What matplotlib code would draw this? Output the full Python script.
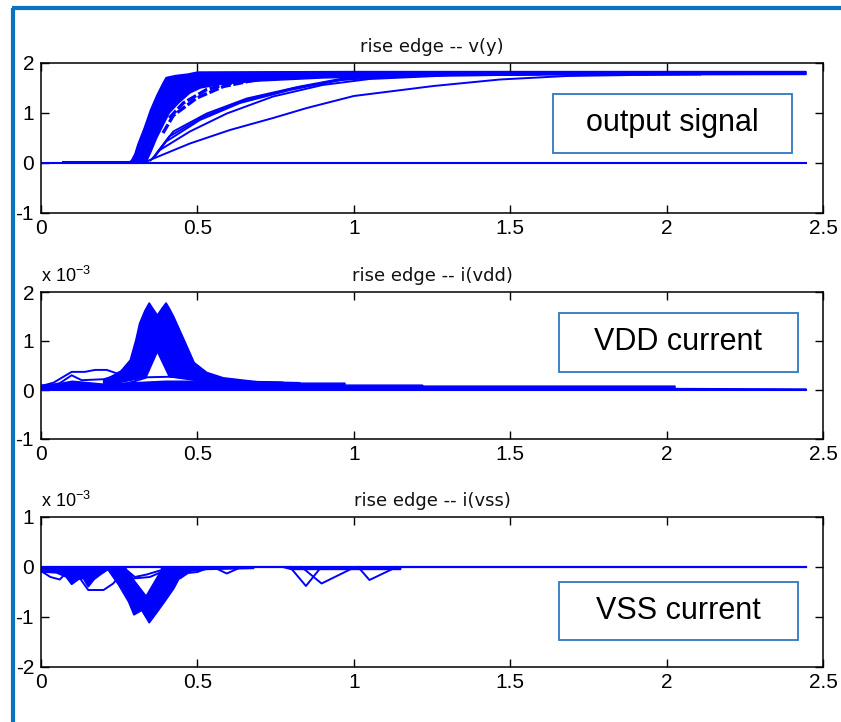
import matplotlib
matplotlib.use('Agg')
import matplotlib.pyplot as plt
from matplotlib import font_manager
from matplotlib.patches import Rectangle, Polygon
from matplotlib.lines import Line2D

BLUE = '#0000ff'
FRAME = '#0a72c0'
BOX = '#2e78c0'
W, H = 841, 722

# ---- common axis setup
x_ticks = [0, 0.5, 1, 1.5, 2, 2.5]
x_labels = ['0', '0.5', '1', '1.5', '2', '2.5']

# ---- panel 1: output voltage v(y)
out_yticks = [-1, 0, 1, 2]
out_ylabels = ['-1', '0', '1', '2']
out_zero_t = [0.0, 2.446]
out_zero_v = [0.0, 0.0]
out_pre_t = [0.07, 0.31]
out_pre_v = [0.02, 0.02]
# dense bundle of fast edges (outline)
out_band_t = [0.28, 0.29, 0.30, 0.31, 0.33, 0.35, 0.37, 0.39, 0.40, 0.43, 0.47, 0.50, 1.0, 2.446,
              2.446, 1.6, 1.2, 0.9, 0.7, 0.58, 0.51, 0.476, 0.44, 0.41, 0.39, 0.37, 0.35, 0.335]
out_band_v = [0.0, 0.06, 0.18, 0.38, 0.70, 1.06, 1.35, 1.60, 1.71, 1.75, 1.78, 1.82, 1.83, 1.83,
              1.77, 1.76, 1.74, 1.70, 1.64, 1.58, 1.50, 1.40, 1.20, 1.00, 0.75, 0.50, 0.20, 0.0]
# slower edges
out_a_t = [0.33, 0.348, 0.476, 0.604, 0.742, 0.85, 1.0, 1.255, 1.467, 1.68, 1.89, 2.107]
out_a_v = [0.0, 0.06, 0.39, 0.66, 0.90, 1.10, 1.34, 1.54, 1.67, 1.74, 1.76, 1.77]
out_b_t = [0.35, 0.38, 0.476, 0.594, 0.742, 0.90, 1.05, 1.30, 1.60]
out_b_v = [0.05, 0.26, 0.63, 0.99, 1.33, 1.56, 1.68, 1.75, 1.77]
out_c_t = [0.36, 0.40, 0.508, 0.636, 0.796, 0.956, 1.15, 1.40]
out_c_v = [0.10, 0.43, 0.86, 1.20, 1.46, 1.66, 1.74, 1.77]
out_c2_t = [0.365, 0.41, 0.52, 0.65, 0.81, 0.97, 1.20]
out_c2_v = [0.15, 0.53, 0.93, 1.25, 1.50, 1.67, 1.76]
out_d_t = [0.37, 0.423, 0.53, 0.658, 0.828, 0.956, 1.15]
out_d_v = [0.20, 0.63, 0.99, 1.29, 1.53, 1.68, 1.76]
# broken-looking edges just right of the bundle
out_e_t = [0.39, 0.423, 0.498, 0.583, 0.70, 0.85]
out_e_v = [0.60, 0.95, 1.30, 1.53, 1.68, 1.76]
out_f_t = [0.41, 0.455, 0.53, 0.594, 0.70]
out_f_v = [0.90, 1.20, 1.47, 1.58, 1.70]

# ---- panel 2: VDD current i(vdd), x 1e-3
vdd_yticks = [-1, 0, 1, 2]
vdd_ylabels = ['-1', '0', '1', '2']
vdd_zero_t = [0.0, 2.446]
vdd_zero_v = [0.0, 0.0]
vdd_peak_t = [0.20, 0.253, 0.285, 0.303, 0.315, 0.332, 0.346, 0.356, 0.372, 0.388, 0.40, 0.412, 0.425,
              0.458, 0.49, 0.53, 0.583, 0.69, 0.828, 0.828, 0.60, 0.41, 0.372, 0.336, 0.25, 0.20]
vdd_peak_v = [0.20, 0.37, 0.61, 1.02, 1.36, 1.62, 1.78, 1.68, 1.53, 1.68, 1.78, 1.65, 1.49,
              1.02, 0.56, 0.36, 0.25, 0.17, 0.15, 0.05, 0.10, 0.27, 0.78, 0.26, 0.15, 0.10]
vdd_tail_t = [0.0, 0.05, 0.10, 0.20, 0.30, 0.40, 0.50, 0.636, 0.774, 0.774, 0.972, 0.972, 1.22, 1.22,
              2.027, 2.027, 2.446, 2.446, 0.0]
vdd_tail_v = [0.10, 0.12, 0.18, 0.12, 0.15, 0.18, 0.18, 0.18, 0.16, 0.14, 0.14, 0.10, 0.10, 0.08,
              0.08, 0.03, 0.02, 0.0, 0.0]
vdd_bump1_t = [0.0, 0.04, 0.098, 0.14, 0.173, 0.21, 0.242, 0.27]
vdd_bump1_v = [0.08, 0.15, 0.37, 0.37, 0.41, 0.41, 0.34, 0.42]
vdd_bump2_t = [0.0, 0.06, 0.098, 0.13, 0.20, 0.26]
vdd_bump2_v = [0.05, 0.14, 0.30, 0.20, 0.22, 0.32]
vdd_low_t = [0.22, 0.30, 0.34, 0.41, 0.50, 0.60]
vdd_low_v = [0.05, 0.18, 0.26, 0.27, 0.24, 0.15]

# ---- panel 3: VSS current i(vss), x 1e-3
vss_yticks = [-2, -1, 0, 1]
vss_ylabels = ['-2', '-1', '0', '1']
vss_zero_t = [0.0, 2.446]
vss_zero_v = [0.0, 0.0]
vss_v_t = [0.21, 0.248, 0.28, 0.297, 0.322, 0.346, 0.372, 0.395, 0.425, 0.442, 0.47, 0.53, 0.68,
           0.68, 0.385, 0.385, 0.336, 0.272, 0.272]
vss_v_v = [-0.02, -0.36, -0.70, -0.96, -0.87, -1.12, -0.90, -0.70, -0.43, -0.23, -0.09, -0.05, -0.03,
           0.0, 0.0, -0.06, -0.58, -0.06, 0.0]
vss_left_t = [0.0, 0.0, 0.05, 0.08, 0.098, 0.12, 0.135, 0.151, 0.17, 0.189, 0.215, 0.215]
vss_left_v = [0.0, -0.10, -0.12, -0.20, -0.35, -0.25, -0.23, -0.40, -0.25, -0.16, -0.05, 0.0]
vss_l1_t = [0.0, 0.03, 0.06, 0.08]
vss_l1_v = [-0.08, -0.20, -0.25, -0.12]
vss_l2_t = [0.11, 0.125, 0.151, 0.20, 0.231, 0.26]
vss_l2_v = [-0.10, -0.23, -0.46, -0.46, -0.33, -0.10]
vss_l3_t = [0.268, 0.30, 0.338, 0.391]
vss_l3_v = [-0.03, -0.20, -0.15, -0.05]
vss_l4_t = [0.274, 0.295, 0.348, 0.40]
vss_l4_v = [-0.08, -0.23, -0.20, -0.06]
vss_l5_t = [0.42, 0.444, 0.47, 0.50, 0.53]
vss_l5_v = [-0.05, -0.23, -0.12, -0.10, -0.03]
vss_l6_t = [0.56, 0.594, 0.63]
vss_l6_v = [-0.03, -0.13, -0.03]
vss_v1_t = [0.796, 0.847, 0.892]
vss_v1_v = [0.0, -0.38, -0.03]
vss_v2_t = [0.833, 0.897, 0.988]
vss_v2_v = [0.0, -0.33, -0.05]
vss_v3_t = [1.014, 1.05, 1.137]
vss_v3_v = [0.0, -0.26, 0.0]
vss_strip_t = [0.77, 0.80, 1.15, 1.15]
vss_strip_v = [0.0, -0.05, -0.05, 0.0]

titles = ['rise edge -- v(y)', 'rise edge -- i(vdd)', 'rise edge -- i(vss)']
box_texts = ['output signal', 'VDD current', 'VSS current']

_installed = {f.name for f in font_manager.fontManager.ttflist}
TICK_FONT = [f for f in ['Liberation Sans Narrow', 'Liberation Sans', 'DejaVu Sans'] if f in _installed]


def px_rect(x0, y0, x1, y1):
    # figure-fraction rect from pixel box (top-left origin)
    return [x0 / W, 1 - y1 / H, (x1 - x0) / W, (y1 - y0) / H]


def style_axes(ax, yticks, ylabels, ylim):
    ax.set_xlim(0, 2.5)
    ax.set_ylim(*ylim)
    ax.set_xticks(x_ticks)
    ax.set_xticklabels(x_labels, family=TICK_FONT, fontsize=15)
    ax.set_yticks(yticks)
    ax.set_yticklabels(ylabels, family=TICK_FONT, fontsize=15)
    ax.tick_params(direction='in', top=True, right=True, length=6, width=1.0, pad=5)
    ax.tick_params(axis='x', pad=4)
    for s in ax.spines.values():
        s.set_linewidth(1.1)


def poly(ax, t, v):
    ax.add_patch(Polygon(list(zip(t, v)), closed=True, fc=BLUE, ec=BLUE, lw=1.0))


fig = plt.figure(figsize=(W / 100, H / 100), dpi=100)

ax1 = fig.add_axes(px_rect(41, 63, 823, 213))
ax2 = fig.add_axes(px_rect(41, 292, 823, 439))
ax3 = fig.add_axes(px_rect(41, 517, 823, 667))

LW = 1.4

# panel 1
ax1.plot(out_zero_t, out_zero_v, color=BLUE, lw=1.5)
ax1.plot(out_pre_t, out_pre_v, color=BLUE, lw=2.2)
poly(ax1, out_band_t, out_band_v)
for t, v in [(out_a_t, out_a_v), (out_b_t, out_b_v), (out_c_t, out_c_v),
             (out_c2_t, out_c2_v), (out_d_t, out_d_v)]:
    ax1.plot(t, v, color=BLUE, lw=LW)
for t, v in [(out_e_t, out_e_v), (out_f_t, out_f_v)]:
    ax1.plot(t, v, color=BLUE, lw=2.4, dashes=(3, 0.8))
style_axes(ax1, out_yticks, out_ylabels, (-1, 2))

# panel 2
ax2.plot(vdd_zero_t, vdd_zero_v, color=BLUE, lw=1.5)
poly(ax2, vdd_tail_t, vdd_tail_v)
poly(ax2, vdd_peak_t, vdd_peak_v)
for t, v in [(vdd_bump1_t, vdd_bump1_v), (vdd_bump2_t, vdd_bump2_v), (vdd_low_t, vdd_low_v)]:
    ax2.plot(t, v, color=BLUE, lw=LW)
style_axes(ax2, vdd_yticks, vdd_ylabels, (-1, 2))

# panel 3
ax3.plot(vss_zero_t, vss_zero_v, color=BLUE, lw=1.6)
poly(ax3, vss_left_t, vss_left_v)
poly(ax3, vss_v_t, vss_v_v)
poly(ax3, vss_strip_t, vss_strip_v)
for t, v in [(vss_l1_t, vss_l1_v), (vss_l2_t, vss_l2_v), (vss_l3_t, vss_l3_v), (vss_l4_t, vss_l4_v),
             (vss_l5_t, vss_l5_v), (vss_l6_t, vss_l6_v), (vss_v1_t, vss_v1_v),
             (vss_v2_t, vss_v2_v), (vss_v3_t, vss_v3_v)]:
    ax3.plot(t, v, color=BLUE, lw=LW)
style_axes(ax3, vss_yticks, vss_ylabels, (-2, 1))

for ax, title in zip([ax1, ax2, ax3], titles):
    ax.set_title(title, fontsize=13, family='DejaVu Sans', color='#111111', pad=8)

for ax in [ax2, ax3]:
    ax.text(0.0, 1.04, r'x 10$^{\mathregular{-3}}$', transform=ax.transAxes,
            fontsize=13, family=TICK_FONT, ha='left', va='bottom')

# annotation boxes
boxes = [(553, 94, 792, 153), (559, 313, 798, 372), (559, 582, 798, 640)]
for (x0, y0, x1, y1), label in zip(boxes, box_texts):
    r = px_rect(x0, y0, x1, y1)
    fig.add_artist(Rectangle((r[0], r[1]), r[2], r[3], transform=fig.transFigure,
                             fc='white', ec=BOX, lw=1.3, zorder=5))
    fig.text(r[0] + r[2] / 2, r[1] + r[3] / 2, label, ha='center', va='center',
             fontsize=22, family='Liberation Sans', zorder=6)

# outer frame (left and top edges visible)
fig.add_artist(Line2D([13 / W, 13 / W], [0, 1 - 8 / H], transform=fig.transFigure,
                      color=FRAME, lw=3.0, solid_capstyle='butt'))
fig.add_artist(Line2D([11.5 / W, 1], [1 - 8 / H, 1 - 8 / H], transform=fig.transFigure,
                      color=FRAME, lw=3.0, solid_capstyle='butt'))

fig.savefig('out.png', dpi=100)
